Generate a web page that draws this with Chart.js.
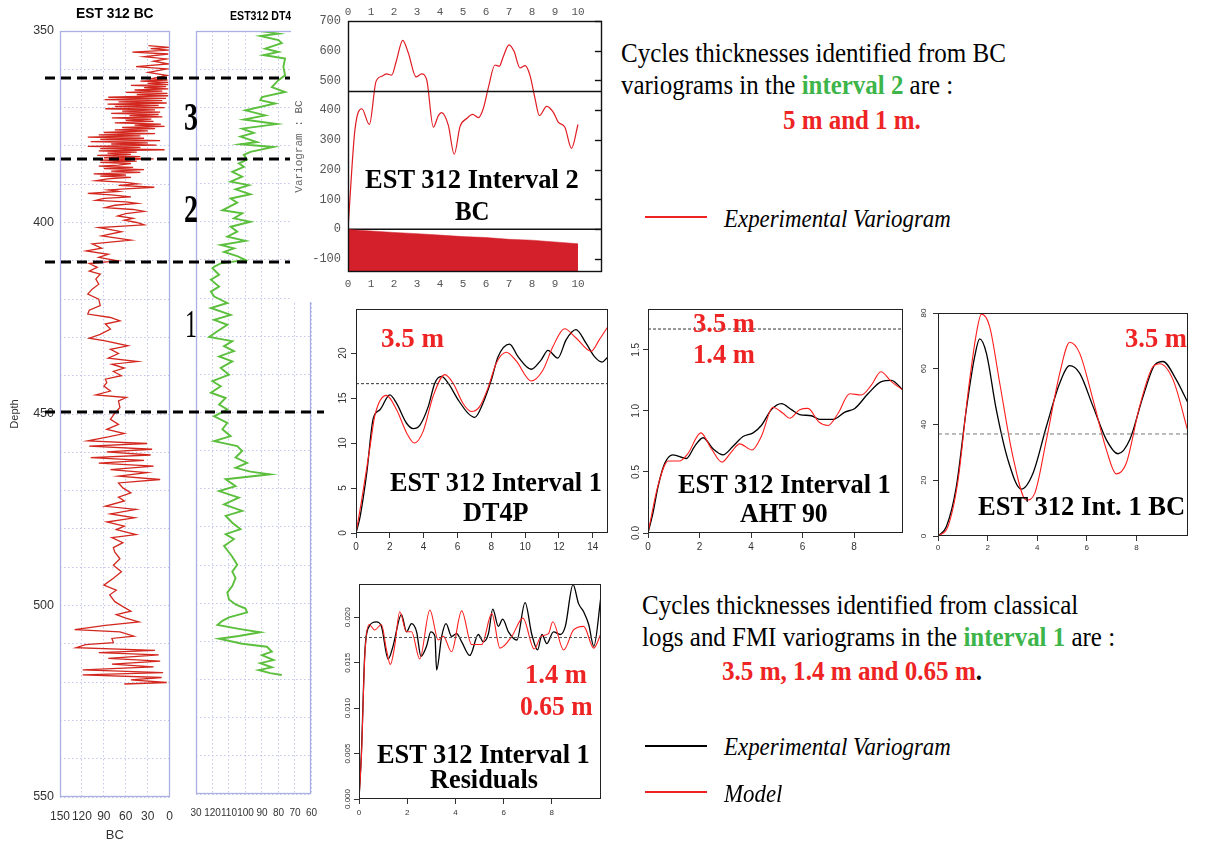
<!DOCTYPE html>
<html><head><meta charset="utf-8">
<script src="https://cdn.jsdelivr.net/npm/chart.js@4.4.1/dist/chart.umd.min.js"></script>
<style>
html,body{margin:0;padding:0;background:#fff;}
#stage{position:relative;width:1210px;height:843px;overflow:hidden;background:#fff;}
canvas{position:absolute;}
.t{position:absolute;white-space:nowrap;line-height:1;transform-origin:0 0;z-index:8;}
.lg{position:absolute;height:2px;z-index:8;}
</style></head><body><div id="stage">
<canvas id="cBC" width="185" height="843" style="left:0;top:0;z-index:1"></canvas>
<canvas id="cDT" width="330" height="843" style="left:0;top:0;z-index:2"></canvas>
<canvas id="cI2" width="315" height="302" style="left:291px;top:0;z-index:6;background:#fff"></canvas>
<canvas id="cD" width="282" height="262" style="left:330px;top:300px;z-index:4"></canvas>
<canvas id="cE" width="295" height="262" style="left:615px;top:300px;z-index:4"></canvas>
<canvas id="cF" width="300" height="262" style="left:910px;top:300px;z-index:4"></canvas>
<canvas id="cG" width="280" height="262" style="left:330px;top:570px;z-index:4"></canvas>
</div>
<script>
// ---------------- DATA ----------------
// Well log EST 312 : BC track (depth in m, BC value)
const BC_DEPTH = [353.8,354.3,354.6,355.0,355.5,356.0,356.7,357.3,357.9,358.6,
359.3,359.9,360.8,361.6,362.5,362.8,363.1,363.4,363.7,364.0,
364.2,364.5,364.8,365.1,365.4,365.7,366.0,366.3,366.6,366.9,
367.3,367.6,367.9,368.2,368.5,368.8,369.1,369.4,369.7,370.0,
370.3,370.6,370.9,371.2,371.5,371.8,372.1,372.4,372.7,373.0,
373.3,373.6,374.0,374.3,374.6,374.9,375.2,375.5,375.8,376.1,
376.5,376.8,377.1,377.4,377.7,378.0,378.3,378.6,378.9,379.2,
379.5,379.8,380.1,380.4,380.7,381.0,381.3,381.6,381.9,382.2,
382.5,382.8,383.1,383.4,383.7,384.0,384.3,384.6,385.0,385.3,
385.6,385.9,386.2,386.6,386.9,387.3,387.6,387.9,388.2,388.6,
389.1,389.5,389.9,390.3,390.8,391.2,391.5,391.9,392.4,392.8,
393.3,393.7,394.2,394.6,395.0,395.5,396.1,396.6,397.1,397.7,
398.3,398.9,399.4,400.0,400.6,401.3,402.4,403.5,404.6,405.6,
406.7,407.4,408.3,409.1,410.0,410.7,411.7,412.7,413.5,414.8,
416.1,417.4,418.7,420.0,421.7,422.9,423.9,424.8,425.7,426.5,
427.8,429.2,430.2,430.9,432.2,433.1,434.2,435.4,436.3,437.0,
438.0,438.9,440.0,440.9,441.8,442.7,444.0,445.0,445.7,446.6,
448.3,449.8,451.4,452.7,454.0,455.1,456.0,457.0,457.7,458.4,
459.2,459.9,460.7,461.4,462.1,462.8,463.6,464.5,465.3,466.2,
467.1,468.0,469.3,470.6,471.7,472.7,474.1,474.9,476.1,477.1,
478.2,479.3,480.2,481.5,482.3,483.6,484.9,486.1,487.8,489.5,
491.2,492.9,494.7,496.0,497.2,499.0,500.3,501.5,502.4,503.3,
504.3,505.2,506.3,506.9,508.0,508.6,509.7,510.2,511.0,511.7,
512.3,512.9,513.8,514.5,515.3,516.0,516.8,517.5,518.1,518.8,
519.4,520.1,520.5];
const BC_VALUE = [29,1,26,1,51,2,35,4,22,2,
46,4,29,4,26,3,40,2,30,2,
53,5,35,2,48,10,60,3,45,2,
84,5,89,10,70,4,85,15,75,7,
88,20,65,13,80,15,55,10,79,25,
60,22,75,12,48,7,65,20,75,30,
90,20,97,40,112,35,95,13,108,30,
80,18,112,40,95,7,97,45,85,53,
99,40,90,22,95,45,95,53,70,97,
50,90,35,80,40,104,60,95,53,85,
101,60,44,70,21,60,84,70,112,80,
53,90,101,60,44,75,88,50,35,60,
71,50,62,45,35,97,66,93,53,106,
93,114,84,97,71,110,99,110,95,101,
97,106,112,97,95,110,112,81,68,88,
81,95,110,88,57,81,70,84,44,79,
62,77,66,88,86,90,81,101,59,70,
68,75,81,70,86,62,84,112,31,110,
24,86,26,108,35,97,22,81,31,70,
13,70,64,53,70,62,88,46,81,48,
86,62,73,46,79,64,77,75,68,77,
66,77,90,73,82,75,64,53,73,60,
42,88,130,68,49,79,77,115,128,20,
97,15,84,13,79,22,119,9,119,11,
53,4,62];

// Well log EST 312 : DT4P track
const DT_DEPTH = [350.0,350.7,351.3,352.4,353.2,354.6,355.5,356.3,357.2,359.4,
361.6,362.9,364.7,366.0,367.3,368.1,369.0,370.8,372.1,373.2,
374.4,375.6,376.7,377.7,379.1,379.7,380.4,381.7,382.5,383.7,
384.7,385.6,386.9,388.2,389.5,390.4,391.5,392.8,393.9,395.0,
397.0,397.8,399.1,400.0,401.3,402.6,403.9,405.0,406.1,407.0,
407.9,409.0,410.0,410.9,411.8,412.2,413.9,415.2,417.0,418.3,
419.6,421.3,422.6,424.4,425.7,427.0,428.7,430.2,431.3,432.6,
433.9,435.3,436.6,438.3,440.1,441.8,443.1,444.8,446.2,447.9,
449.2,451.0,452.7,454.4,456.2,457.5,458.8,460.1,461.8,463.2,
464.5,465.5,466.2,467.5,469.3,470.6,472.3,474.1,475.8,477.1,
478.9,480.6,481.9,483.2,485.0,486.1,487.8,489.9,491.7,493.4,
495.5,497.2,499.0,500.3,501.4,502.4,503.7,504.6,505.7,506.7,
507.6,508.6,509.3,510.6,511.4,512.7,513.6,514.9,515.7,516.8,
517.5,518.3,518.8];
const DT_VALUE = [91,80,91,80,78,88,80,89,76,77,
76,80,84,76,90,91,82,100,88,101,
81,102,95,103,93,103,83,97,101,99,
104,101,108,102,109,98,106,97,109,105,
114,102,107,97,109,105,111,100,115,107,
113,105,100,115,119,120,116,121,116,121,
119,111,121,109,119,111,117,122,108,113,
107,116,108,115,110,120,115,121,112,116,
111,119,111,114,109,119,105,102,106,99,
106,97,85,112,106,116,104,113,102,112,
108,103,112,107,113,111,108,105,108,106,
108,111,110,106,100,99,110,114,117,104,
91,104,116,102,87,84,90,83,91,84,
92,85,78];
const DT_TICKS = [130,120,110,100,90,80,70,60];
const DT_TICK_LABELS = ['30','120','110','100','90','80','70','60'];
// Interval boundaries (depth, m)
const INTERVAL_TOPS = [362.3, 383.5, 410.5, 449.9];

// Interval 2, BC experimental variogram
const C_LAG = [0,0.3,0.6,0.93,1.22,1.5,1.68,1.9,2.09,2.38,2.62,2.96,3.2,3.42,3.71,3.93,4.07,4.36,4.62,4.87,5.16,5.42,5.67,5.88,6.1,6.39,6.58,6.75,7.0,7.22,7.48,7.7,7.91,8.13,8.32,8.64,8.93,9.14,9.43,9.72,10.0];
const C_VARIO = [0,333,405,352,497,515,522,518,562,635,593,512,522,503,343,382,392,350,252,345,372,386,375,405,475,552,548,580,620,598,542,550,518,440,382,413,393,360,343,272,352];
const C_PAIR_LAG = [0,1,2,3,4,5,6,7,8,9,10];
const C_PAIRS = [-1,-6,-11,-15,-20,-25,-28,-34,-37,-43,-49];
const C_SILL = 463;
const C_XTICKS = [0,1,2,3,4,5,6,7,8,9,10];

// Interval 1, DT4P
const D_LAG_EXP = [0,0.24,0.63,1.02,1.42,2.0,2.4,2.99,3.38,3.78,4.27,4.66,5.05,5.45,6.04,6.63,7.02,7.5,8.0,8.4,9.08,9.58,10.36,10.95,11.35,11.93,12.43,13.0,13.6,14.1,14.55,14.88];
const D_EXP = [0,1.8,6.6,12.75,13.7,15.35,14.4,12.2,11.6,12.0,14.05,16.65,17.4,16.65,14.8,13.3,12.86,14.4,17.0,19.6,21.0,19.6,18.2,19.25,20.3,19.45,21.5,22.6,21.1,19.6,19.0,19.55];
const D_LAG_MOD = [0,0.33,0.83,1.12,1.8,2.4,3.0,3.44,3.97,4.56,5.25,5.74,6.33,6.82,7.31,7.8,8.3,8.89,9.48,10.36,11.05,11.64,12.33,13.0,13.9,14.39,14.88];
const D_MOD = [0,3.6,9.6,13.1,15.3,13.7,11.1,10.0,11.3,15.2,17.6,16.65,14.4,13.5,14.05,16.1,18.9,20.1,19.1,16.9,18.1,20.7,22.7,21.7,20.2,21.5,22.9];
const D_SILL = 16.6;
const D_XTICKS = [0,2,4,6,8,10,12,14];

// Interval 1, AHT 90
const E_LAG_EXP = [0,0.19,0.39,0.65,0.97,1.49,1.81,2.14,2.52,2.91,3.3,3.69,4.08,4.4,4.79,5.18,5.57,5.89,6.34,6.67,7.18,7.64,8.03,8.54,9.06,9.45,9.9];
const E_EXP = [0,0.16,0.38,0.57,0.64,0.61,0.71,0.78,0.69,0.64,0.71,0.79,0.82,0.88,1.01,1.06,1.01,0.97,0.96,0.93,0.93,0.99,1.02,1.14,1.24,1.25,1.17];
const E_LAG_MOD = [0,0.39,0.78,1.23,1.55,2.05,2.46,2.87,3.24,3.56,4.04,4.4,4.85,5.24,5.5,5.89,6.21,6.63,6.99,7.38,7.83,8.28,8.67,9.04,9.45,9.9];
const E_MOD = [0,0.39,0.59,0.59,0.65,0.82,0.69,0.58,0.665,0.73,0.68,0.79,1.03,0.98,0.94,1.01,1.02,0.91,0.88,0.98,1.14,1.13,1.21,1.32,1.24,1.17];
const E_SILL = 1.67;
const E_XTICKS = [0,2,4,6,8];

// Interval 1, BC
const F_LAG_EXP = [0,0.34,0.74,1.14,1.48,1.68,1.95,2.35,2.82,3.36,3.83,4.37,4.91,5.31,5.71,6.25,6.79,7.26,7.73,8.27,8.74,9.07,9.61,10.08];
const F_EXP = [0,3.4,17.7,45.3,64.4,70.7,65.6,45.3,27.3,16.8,22.5,39.3,54.9,61.1,58.4,46.5,34.5,29.5,34.5,50.1,61.4,62.6,56,47.7];
const F_LAG_MOD = [0,0.4,0.81,1.21,1.55,1.75,2.08,2.49,3.02,3.56,3.9,4.37,4.91,5.31,5.71,6.25,6.79,7.19,7.59,8.13,8.67,8.94,9.48,10.08];
const F_MOD = [0,3.4,20.1,51.3,72.8,79.6,75.2,54.8,28.5,12.9,15.3,34.5,58.4,69.5,65.6,48.9,30.9,22.3,26.1,46.5,60.8,61.8,56,37.5];
const F_SILL = 36.6;
const F_XTICKS = [0,2,4,6,8];

// Interval 1, residuals
const G_LAG_EXP = [0,0.1,0.24,0.42,0.72,0.93,1.21,1.41,1.76,1.97,2.18,2.39,2.57,2.8,2.98,3.15,3.22,3.43,3.61,3.84,4.05,4.26,4.6,4.95,5.16,5.37,5.55,5.78,5.96,6.2,6.55,6.89,7.17,7.41,7.59,7.79,8.07,8.35,8.56,8.88,9.11,9.32,9.53,9.74,10.04];
const G_EXP = [0,0.00505,0.016,0.019,0.0195,0.019,0.0154,0.0168,0.0203,0.0184,0.0193,0.0184,0.0157,0.0168,0.0184,0.0179,0.0142,0.0179,0.0193,0.0179,0.0182,0.0173,0.0158,0.0181,0.0173,0.0182,0.0209,0.019,0.0198,0.0184,0.0175,0.0216,0.0181,0.0164,0.0181,0.0171,0.0184,0.0181,0.019,0.0236,0.0215,0.0206,0.0192,0.0168,0.0223];
const G_LAG_MOD = [0,0.1,0.24,0.42,0.65,0.93,1.14,1.3,1.48,1.69,1.97,2.18,2.52,2.94,3.29,3.5,3.84,4.26,4.67,5.09,5.51,5.85,6.34,6.8,7.27,7.55,7.86,8.04,8.49,8.9,9.32,9.74,10.04];
const G_MOD = [0,0.0047,0.0157,0.0192,0.0186,0.0192,0.0164,0.0148,0.0168,0.0206,0.0184,0.0184,0.0154,0.0208,0.0175,0.0179,0.0162,0.0207,0.017,0.017,0.0204,0.0166,0.0179,0.0199,0.0165,0.0179,0.0182,0.0195,0.0164,0.0186,0.019,0.0166,0.0182];
const G_SILL = 0.01777;
const G_XTICKS = [0,2,4,6,8];

// ---------------- HELPERS ----------------
Chart.defaults.font.family = "'Liberation Sans', Arial, sans-serif";
const pts = (xs, ys) => xs.map((x, i) => ({x: x, y: ys[i]}));
const fixW = w => function (s) { s.width = w; };
const fixH = h => function (s) { s.height = h; };
const near = (list, v) => list.some(t => Math.abs(t - v) < 1e-9);
const base = {responsive:false, animation:false, devicePixelRatio:1, events:[]};

const boxPlugin = {
  id:'box',
  afterDraw(chart, args, o) {
    const a = chart.chartArea, ctx = chart.ctx;
    ctx.save();
    ctx.strokeStyle = o.color || '#000';
    ctx.lineWidth = o.width || 1;
    ctx.strokeRect(Math.round(a.left)+0.5, Math.round(a.top)+0.5, Math.round(a.right-a.left)-1, Math.round(a.bottom-a.top)-1);
    if (o.ticksRight) {
      const s = chart.scales.y;
      s.ticks.forEach(t => {
        const py = Math.round(s.getPixelForValue(t.value)) + 0.5;
        ctx.beginPath(); ctx.moveTo(a.right, py); ctx.lineTo(a.right - 7, py); ctx.stroke();
      });
    }
    ctx.restore();
  }
};
const rotYPlugin = {
  id:'rotY',
  afterDraw(chart, args, o) {
    if (!o.size) return;
    const s = chart.scales.y, ctx = chart.ctx, a = chart.chartArea;
    ctx.save();
    ctx.font = o.size + "px 'Liberation Sans', Arial, sans-serif";
    ctx.fillStyle = '#333';
    ctx.textAlign = 'center'; ctx.textBaseline = 'middle';
    s.ticks.forEach(t => {
      ctx.save();
      ctx.translate(a.left - o.offset, s.getPixelForValue(t.value));
      ctx.rotate(-Math.PI / 2);
      ctx.fillText(Number(t.value).toFixed(o.digits), 0, 0);
      ctx.restore();
    });
    ctx.restore();
  }
};
const boundsPlugin = {
  id:'bounds',
  afterDraw(chart) {
    const s = chart.scales.y, ctx = chart.ctx;
    ctx.save();
    ctx.strokeStyle = '#000'; ctx.lineWidth = 3; ctx.setLineDash([10, 6]);
    INTERVAL_TOPS.forEach((d, i) => {
      const py = Math.round(s.getPixelForValue(d));
      ctx.beginPath(); ctx.moveTo(45, py); ctx.lineTo(i === INTERVAL_TOPS.length - 1 ? 324 : 290, py); ctx.stroke();
    });
    ctx.restore();
  }
};

const logGrid = {color:'#c4c6ee', drawTicks:false, lineWidth:1};
const logBorder = {display:false, dash:[1.5, 2.5]};

// ---------------- BC LOG ----------------
new Chart(document.getElementById('cBC'), {
  type:'scatter',
  data:{datasets:[{data:pts(BC_VALUE, BC_DEPTH), showLine:true, borderColor:'#d3281f', borderWidth:1.3, pointRadius:0}]},
  options:Object.assign({}, base, {
    layout:{padding:{top:31, right:12, left:0, bottom:0}},
    plugins:{legend:{display:false}, tooltip:{enabled:false}, box:{color:'#aab0e2', width:1.3}},
    scales:{
      x:{type:'linear', min:0, max:150, reverse:true, afterFit:fixH(46),
         ticks:{stepSize:30, padding:12, color:'#333', font:{size:12}, maxRotation:0, autoSkip:false, includeBounds:false},
         grid:logGrid, border:logBorder,
         title:{display:true, text:'BC', color:'#333', font:{size:13}, padding:{top:0, bottom:0}}},
      y:{type:'linear', min:350, max:550, reverse:true, afterFit:fixW(60),
         ticks:{stepSize:10, padding:6, color:'#333', font:{size:12.5}, autoSkip:false, includeBounds:false,
                callback:v => (v % 50 === 0 ? String(v) : '')},
         grid:logGrid, border:logBorder,
         title:{display:true, text:'Depth', color:'#333', font:{size:11}, padding:{top:8, bottom:0}}}
    }
  }),
  plugins:[boxPlugin]
});

// ---------------- DT4P LOG ----------------
new Chart(document.getElementById('cDT'), {
  type:'scatter',
  data:{datasets:[{data:pts(DT_VALUE, DT_DEPTH), showLine:true, borderColor:'#5cbf3d', borderWidth:1.9, pointRadius:0}]},
  options:Object.assign({}, base, {
    layout:{padding:{top:31, right:7, left:196, bottom:0}},
    plugins:{legend:{display:false}, tooltip:{enabled:false}, box:{color:'#aab0e2', width:1.3}},
    scales:{
      x:{type:'linear', min:60, max:130, reverse:true, afterFit:fixH(49),
         ticks:{stepSize:10, padding:13, color:'#333', font:{size:10, family:"'Liberation Sans Narrow','Liberation Sans',Arial"},
                maxRotation:0, autoSkip:false, includeBounds:false,
                callback:v => { const i = DT_TICKS.indexOf(v); return i < 0 ? '' : DT_TICK_LABELS[i]; }},
         grid:logGrid, border:logBorder},
      y:{type:'linear', min:350, max:550, reverse:true, afterFit:fixW(0),
         ticks:{stepSize:10, display:false, includeBounds:false}, grid:logGrid, border:logBorder}
    }
  }),
  plugins:[boxPlugin, boundsPlugin]
});

// ---------------- INTERVAL 2 BC VARIOGRAM ----------------
const C_XMAX = 11.04;
const monoTick = {color:'#555', font:{family:"'Liberation Mono','Courier New',monospace", size:11}};
const cTickCb = v => (near(C_XTICKS, v) ? String(v) : '');
new Chart(document.getElementById('cI2'), {
  type:'scatter',
  data:{datasets:[
    {data:pts(C_PAIR_LAG, C_PAIRS), showLine:true, fill:'start', backgroundColor:'#d3202a', borderColor:'#d3202a', borderWidth:0.5, pointRadius:0, xAxisID:'x', yAxisID:'y'},
    {data:[{x:0, y:0}, {x:C_XMAX, y:0}], showLine:true, borderColor:'#111', borderWidth:1.4, pointRadius:0, xAxisID:'x', yAxisID:'y'},
    {data:[{x:0, y:C_SILL}, {x:C_XMAX, y:C_SILL}], showLine:true, borderColor:'#111', borderWidth:1.4, pointRadius:0, xAxisID:'x', yAxisID:'y'},
    {data:pts(C_LAG, C_VARIO), showLine:true, borderColor:'#e01b22', borderWidth:1.2, pointRadius:0, cubicInterpolationMode:'monotone', xAxisID:'x', yAxisID:'y'}
  ]},
  options:Object.assign({}, base, {
    layout:{padding:{top:0, right:4, left:0, bottom:0}},
    plugins:{legend:{display:false}, tooltip:{enabled:false}, box:{color:'#111', width:1.4, ticksRight:true}},
    scales:{
      x:{type:'linear', position:'bottom', min:0, max:C_XMAX, afterFit:fixH(30),
         ticks:Object.assign({stepSize:1, padding:5, autoSkip:false, maxRotation:0, includeBounds:false, callback:cTickCb}, monoTick),
         grid:{drawOnChartArea:false, drawTicks:false}, border:{display:false}},
      x2:{type:'linear', position:'top', min:0, max:C_XMAX, afterFit:fixH(21),
         ticks:Object.assign({stepSize:1, padding:2, autoSkip:false, maxRotation:0, includeBounds:false, callback:cTickCb}, monoTick),
         grid:{drawOnChartArea:false, drawTicks:false}, border:{display:false}},
      y:{type:'linear', min:-144, max:700, afterFit:fixW(57),
         ticks:{stepSize:100, padding:7, includeBounds:false, color:'#555', font:{family:"'Liberation Mono','Courier New',monospace", size:12}},
         grid:{drawOnChartArea:false, drawTicks:false}, border:{display:false},
         title:{display:true, text:'Variogram : BC', color:'#666', font:{family:"'Liberation Mono','Courier New',monospace", size:11}, padding:{top:1, bottom:0}}}
    }
  }),
  plugins:[boxPlugin]
});

// ---------------- INTERVAL 1 VARIOGRAM PANELS ----------------
function variogramPanel(id, P) {
  return new Chart(document.getElementById(id), {
    type:'scatter',
    data:{datasets:[
      {data:[{x:0, y:P.sill}, {x:P.xmax, y:P.sill}], showLine:true, borderColor:P.sillColor, borderWidth:1, borderDash:P.dash, pointRadius:0},
      {data:pts(P.modLag, P.mod), showLine:true, borderColor:'#ff1d1d', borderWidth:1.1, pointRadius:0, cubicInterpolationMode:'monotone'},
      {data:pts(P.expLag, P.exp), showLine:true, borderColor:'#000', borderWidth:1.3, pointRadius:0, cubicInterpolationMode:'monotone'}
    ]},
    options:Object.assign({}, base, {
      layout:{padding:{top:P.top, right:P.right, left:0, bottom:0}},
      plugins:{legend:{display:false}, tooltip:{enabled:false}, box:{color:'#222', width:1},
               rotY:{offset:P.yOff, size:P.font, digits:P.digits}},
      scales:{
        x:{type:'linear', min:0, max:P.xmax, afterFit:fixH(P.xh), border:{display:false},
           grid:{drawOnChartArea:false, drawTicks:true, tickLength:5, tickColor:'#333'},
           afterBuildTicks:s => { s.ticks = s.ticks.filter(t => near(P.xticks, t.value)); },
           ticks:{stepSize:P.xstep, includeBounds:false, autoSkip:false, maxRotation:0, padding:P.xpad, color:'#333', font:{size:P.font}}},
        y:{type:'linear', min:0, max:P.ymax, afterFit:fixW(P.yw), border:{display:false},
           grid:{drawOnChartArea:false, drawTicks:true, tickLength:5, tickColor:'#333'},
           ticks:{stepSize:P.ystep, includeBounds:false, display:false}}
      }
    }),
    plugins:[boxPlugin, rotYPlugin]
  });
}
variogramPanel('cD', {expLag:D_LAG_EXP, exp:D_EXP, modLag:D_LAG_MOD, mod:D_MOD, sill:D_SILL, xticks:D_XTICKS, sillColor:'#333', dash:[3,2],
  xmax:14.9, ymax:24.9, xstep:2, ystep:5, digits:0, font:10, top:9, right:4, xh:29, yw:26, yOff:13, xpad:3});
variogramPanel('cE', {expLag:E_LAG_EXP, exp:E_EXP, modLag:E_LAG_MOD, mod:E_MOD, sill:E_SILL, xticks:E_XTICKS, sillColor:'#333', dash:[3,2],
  xmax:9.9, ymax:1.834, xstep:2, ystep:0.5, digits:1, font:10, top:9, right:7, xh:29, yw:33, yOff:12, xpad:3});
variogramPanel('cF', {expLag:F_LAG_EXP, exp:F_EXP, modLag:F_LAG_MOD, mod:F_MOD, sill:F_SILL, xticks:F_XTICKS, sillColor:'#777', dash:[4,3],
  xmax:10.08, ymax:80, xstep:2, ystep:20, digits:0, font:8, top:13, right:22, xh:26, yw:28, yOff:14, xpad:2});
variogramPanel('cG', {expLag:G_LAG_EXP, exp:G_EXP, modLag:G_LAG_MOD, mod:G_MOD, sill:G_SILL, xticks:G_XTICKS, sillColor:'#555', dash:[3,2],
  xmax:10.04, ymax:0.02366, xstep:2, ystep:0.005, digits:3, font:8, top:14, right:9, xh:33, yw:29, yOff:11, xpad:4});

// ---------------- TEXT ----------------
const RED = '#ee2424', GREEN = '#3db54a';
const stage = document.getElementById('stage');
function txt(html, x, cy, size, o) {
  o = o || {};
  const el = document.createElement('div');
  el.className = 't';
  el.innerHTML = html;
  const serif = o.sans ? false : true;
  el.style.fontFamily = serif ? "'Liberation Serif','Times New Roman',serif" : "'Liberation Sans',Arial,sans-serif";
  el.style.fontSize = size + 'px';
  el.style.fontWeight = o.bold ? 'bold' : 'normal';
  el.style.fontStyle = o.italic ? 'italic' : 'normal';
  el.style.color = o.color || '#000';
  stage.appendChild(el);
  const w0 = el.offsetWidth;
  const w = o.w || w0;
  const sc = w / w0;
  let left = x;
  if (o.align === 'center') left = x - w / 2;
  if (o.align === 'right') left = x - w;
  el.style.left = left + 'px';
  el.style.top = (cy - (serif ? 0.507 : 0.49) * size) + 'px';
  el.style.transform = 'scaleX(' + sc + ')';
  if (o.z) el.style.zIndex = o.z;
  return el;
}
function legendLine(x, y, w, color) {
  const d = document.createElement('div');
  d.className = 'lg';
  d.style.left = x + 'px'; d.style.top = (y - 1) + 'px'; d.style.width = w + 'px'; d.style.background = color;
  stage.appendChild(d);
}

// log titles
txt('EST 312 BC', 76, 12.5, 14, {sans:true, bold:true, w:78});
txt('EST312 DT4P', 230, 16, 12, {sans:true, bold:true, w:68, z:3});
txt('3', 184, 117, 40, {bold:true, w:14});
txt('2', 184, 209, 40, {bold:true, w:14});
txt('1', 185, 324, 40, {w:12});

// interval 2 panel
txt('EST 312 Interval 2', 472, 180, 27, {bold:true, w:214, align:'center'});
txt('BC', 472, 212, 27, {bold:true, w:35, align:'center'});

// top-right block
txt('Cycles thicknesses identified from BC', 621, 53, 28, {w:385});
txt('variograms in the <span style="color:' + GREEN + ';font-weight:bold">interval 2</span> are :', 621, 85, 28, {w:332});
txt('5 m and 1 m.', 783, 120, 28, {bold:true, color:RED, w:138});
legendLine(645, 217, 62, RED);
txt('Experimental Variogram', 724, 218.7, 26, {italic:true, w:227});

// DT4P panel
txt('3.5 m', 381, 339, 27, {bold:true, color:RED, w:63});
txt('EST 312 Interval 1', 496, 483, 27, {bold:true, w:212, align:'center'});
txt('DT4P', 496, 513, 27, {bold:true, w:66, align:'center'});

// AHT 90 panel
txt('3.5 m', 693, 324, 27, {bold:true, color:RED, w:62});
txt('1.4 m', 693, 355, 27, {bold:true, color:RED, w:62});
txt('EST 312 Interval 1', 784.5, 485, 27, {bold:true, w:213, align:'center'});
txt('AHT 90', 784, 514, 27, {bold:true, w:88, align:'center'});

// Int. 1 BC panel
txt('3.5 m', 1187, 339, 27, {bold:true, color:RED, w:62, align:'right'});
txt('EST 312 Int. 1 BC', 978, 507, 27, {bold:true, w:207});

// Residuals panel
txt('1.4 m', 525, 675, 27, {bold:true, color:RED, w:62});
txt('0.65 m', 520, 707, 27, {bold:true, color:RED, w:73});
txt('EST 312 Interval 1', 483.5, 755, 27, {bold:true, w:213, align:'center'});
txt('Residuals', 484, 780, 27, {bold:true, w:108, align:'center'});

// bottom-right block
txt('Cycles thicknesses identified from classical', 642, 605, 28, {w:436});
txt('logs and FMI variograms in the <span style="color:' + GREEN + ';font-weight:bold">interval 1</span> are :', 642, 637, 28, {w:473});
txt('<span style="color:' + RED + '">3.5 m, 1.4 m and 0.65 m</span>.', 722, 671, 28, {bold:true, w:260});
legendLine(645, 746, 62, '#000');
txt('Experimental Variogram', 724, 747, 26, {italic:true, w:227});
legendLine(645, 792, 62, RED);
txt('Model', 724, 793.7, 26, {italic:true, w:58});
</script>
</body></html>
